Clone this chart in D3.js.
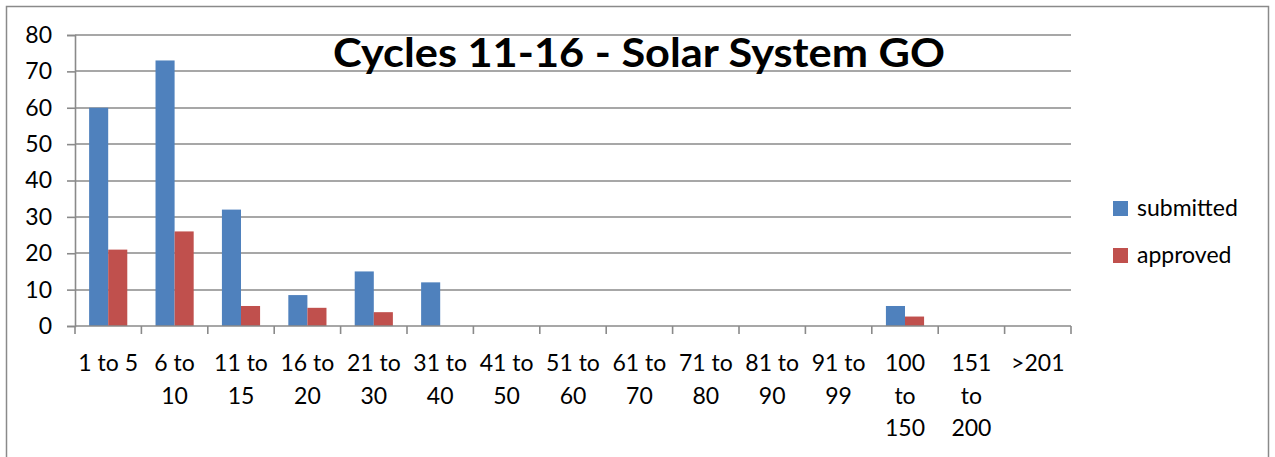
<!DOCTYPE html>
<html>
<head>
<meta charset="utf-8">
<script src="https://cdn.jsdelivr.net/npm/d3@7"></script>
<style>
  body { margin: 0; background: #fff; }
  svg { display: block; font-family: Lato, "Open Sans", sans-serif; }
</style>
</head>
<body>
<svg id="chart" width="1275" height="457"></svg>
<script>
// data
var categories = ['1 to 5', '6 to 10', '11 to 15', '16 to 20', '21 to 30', '31 to 40', '41 to 50',
    '51 to 60', '61 to 70', '71 to 80', '81 to 90', '91 to 99', '100 to 150', '151 to 200', '>201'];
var tickLines = [['1 to 5'], ['6 to', '10'], ['11 to', '15'], ['16 to', '20'], ['21 to', '30'],
    ['31 to', '40'], ['41 to', '50'], ['51 to', '60'], ['61 to', '70'], ['71 to', '80'],
    ['81 to', '90'], ['91 to', '99'], ['100', 'to', '150'], ['151', 'to', '200'], ['>201']];
var submitted = [60, 73, 32, 8.5, 15, 12, 0, 0, 0, 0, 0, 0, 5.5, 0, 0];
var approved = [21, 26, 5.5, 5, 3.8, 0, 0, 0, 0, 0, 0, 0, 2.6, 0, 0];
var seriesNames = ['submitted', 'approved'];
var yTicks = [0, 10, 20, 30, 40, 50, 60, 70, 80];

var colors = { submitted: '#4F81BD', approved: '#C0504D' };
var grey = '#8a8a8a';
var fontSize = 23;

var svg = d3.select('#chart');
var margin = { top: 35, left: 75 },
    plotRight = 1071, plotBottom = 326;

// outer border of the chart area
svg.append('rect')
    .attr('x', 6.5).attr('y', 6.5)
    .attr('width', 1262).attr('height', 470)
    .attr('fill', 'none').attr('stroke', grey).attr('stroke-width', 1.5);

var x0 = d3.scaleBand().domain(categories).range([margin.left, plotRight]).padding(0);
var x1 = d3.scaleBand().domain(seriesNames).range([0, x0.bandwidth()])
    .paddingInner(0).paddingOuter(0.74);
var y = d3.scaleLinear().domain([0, 80]).range([plotBottom, margin.top]);

// gridlines
svg.append('g').selectAll('line')
    .data(yTicks.slice(1))
    .enter().append('line')
    .attr('x1', margin.left).attr('x2', plotRight)
    .attr('y1', function (d) { return Math.round(y(d)); })
    .attr('y2', function (d) { return Math.round(y(d)); })
    .attr('stroke', grey).attr('stroke-width', 1.6);

// y axis
var yAxis = d3.axisLeft(y).tickValues(yTicks).tickSize(8).tickPadding(15);
var gy = svg.append('g').attr('transform', 'translate(' + margin.left + ',0)').call(yAxis);
gy.select('.domain').attr('stroke', grey).attr('stroke-width', 1.6);
gy.selectAll('.tick line').attr('stroke', grey).attr('stroke-width', 1.6);
gy.selectAll('.tick text').attr('font-size', fontSize).attr('fill', '#000')
    .attr('font-family', 'Lato, "Open Sans", sans-serif');

// bars
var rows = categories.map(function (c, i) {
    return { cat: c, values: [
        { key: 'submitted', value: submitted[i] },
        { key: 'approved', value: approved[i] }] };
});
var groups = svg.append('g').selectAll('g')
    .data(rows).enter().append('g')
    .attr('transform', function (d) { return 'translate(' + x0(d.cat) + ',0)'; });
groups.selectAll('rect')
    .data(function (d) { return d.values; })
    .enter().append('rect')
    .attr('x', function (d) { return x1(d.key); })
    .attr('width', x1.bandwidth())
    .attr('y', function (d) { return y(d.value); })
    .attr('height', function (d) { return plotBottom - y(d.value); })
    .attr('fill', function (d) { return colors[d.key]; });

// x axis (ticks at category boundaries)
svg.append('line')
    .attr('x1', margin.left).attr('x2', plotRight)
    .attr('y1', plotBottom).attr('y2', plotBottom)
    .attr('stroke', grey).attr('stroke-width', 1.6);
var bounds = categories.map(function (c) { return x0(c); }).concat([plotRight]);
svg.append('g').selectAll('line')
    .data(bounds).enter().append('line')
    .attr('x1', function (d) { return d; }).attr('x2', function (d) { return d; })
    .attr('y1', plotBottom).attr('y2', plotBottom + 8)
    .attr('stroke', grey).attr('stroke-width', 1.6);

var xl = svg.append('g').selectAll('text')
    .data(categories).enter().append('text')
    .attr('x', function (d) { return x0(d) + x0.bandwidth() / 2; })
    .attr('text-anchor', 'middle')
    .attr('font-size', fontSize).attr('fill', '#000');
xl.selectAll('tspan')
    .data(function (d, i) { return tickLines[i]; })
    .enter().append('tspan')
    .attr('x', function () { return d3.select(this.parentNode).attr('x'); })
    .attr('y', function (d, j) { return 371 + j * 32.5; })
    .text(function (d) { return d; });

// title
svg.append('text')
    .attr('x', 333).attr('y', 67)
    .attr('font-size', 41).attr('font-weight', 'bold')
    .attr('textLength', 612).attr('lengthAdjust', 'spacingAndGlyphs')
    .text('Cycles 11-16 - Solar System GO');

// legend
var legend = svg.append('g').selectAll('g')
    .data(seriesNames).enter().append('g')
    .attr('transform', function (d, i) { return 'translate(1113,' + (208 + i * 47) + ')'; });
legend.append('rect')
    .attr('x', 0).attr('y', -7).attr('width', 15).attr('height', 15)
    .attr('fill', function (d) { return colors[d]; });
legend.append('text')
    .attr('x', 24).attr('y', 8)
    .attr('font-size', fontSize).attr('fill', '#000')
    .text(function (d) { return d; });
</script>
</body>
</html>
